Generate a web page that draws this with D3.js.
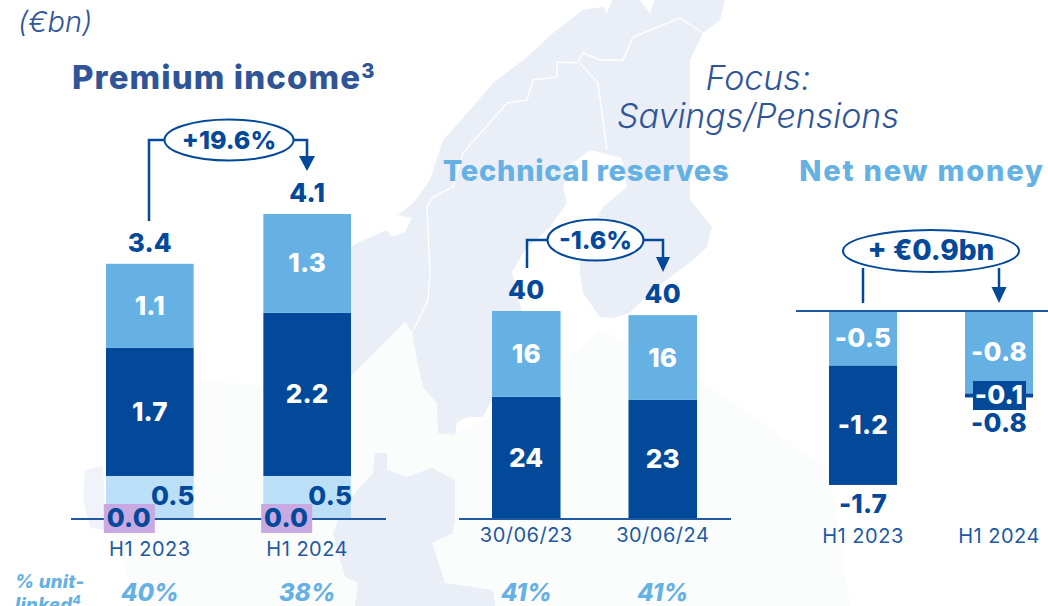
<!DOCTYPE html>
<html>
<head>
<meta charset="utf-8">
<script src="https://cdn.jsdelivr.net/npm/d3@7"></script>
<style>
  html, body { margin: 0; padding: 0; background: #fff; overflow: hidden; }
  text { font-family: Inter, "Open Sans", sans-serif; }
</style>
</head>
<body>
<svg id="chart" width="1048" height="606"></svg>
<script>
// values
const periods = ['H1 2023', 'H1 2024'];
const reserveDates = ['30/06/23', '30/06/24'];

const premiumTop = [1.11, 1.31];
const premiumMid = [1.70, 2.16];
const premiumLow = [0.55, 0.55];
const premiumOther = [0.02, 0.02];
const premiumTopLabels = ['1.1', '1.3'];
const premiumMidLabels = ['1.7', '2.2'];
const premiumLowLabels = ['0.5', '0.5'];
const premiumOtherLabels = ['0.0', '0.0'];
const premiumTotals = ['3.4', '4.1'];

const reservesTop = [16.5, 16.3];
const reservesLow = [23.5, 22.9];
const reservesTopLabels = ['16', '16'];
const reservesLowLabels = ['24', '23'];
const reservesTotals = ['40', '40'];

const moneyTop = [-0.55, -0.83];
const moneyLow = [-1.20, -0.04];
const moneyTopLabels = ['-0.5', '-0.8'];
const moneyLowLabels = ['-1.2', '-0.1'];
const moneyTotals = ['-1.7', '-0.8'];

const unitLinked = ['40%', '38%', '41%', '41%'];

// background map outlines, only decoration
const nordicLand = [[583,10],[603,7],[607,13],[612,0],[640,0],[650,13],[655,0],[725,0],[720,20],[703,33],[690,60],[690,143],[690,200],[712,227],[707,247],[693,260],[660,285],[629,313],[613,318],[600,317],[583,293],[580,273],[580,250],[603,207],[627,187],[622,158],[590,150],[570,165],[563,187],[567,203],[550,227],[525,250],[512,272],[522,312],[492,312],[492,400],[483,417],[468,417],[457,422],[455,435],[438,433],[437,403],[423,387],[417,360],[412,333],[405,322],[351,376],[340,380],[340,255],[357,243],[387,230],[392,237],[405,232],[412,218],[398,215],[413,203],[430,180],[443,140],[470,110],[493,83],[527,57],[553,33]];
const nordicBorders = [
  [[412,333],[428,300],[430,273],[427,207],[433,197],[453,187],[463,153],[507,103],[527,100],[533,80],[557,77],[557,62],[577,63],[583,53],[600,60],[623,60],[633,37],[680,18],[703,33]],
  [[580,63],[598,83],[607,150]]
];
const centralLand = [[362,485],[373,473],[375,453],[387,453],[387,470],[407,477],[432,468],[455,480],[455,520],[453,533],[432,543],[445,583],[493,590],[495,606],[355,606],[358,583],[345,577],[333,533],[342,510]];
const britainLand = [[85,470],[103,466],[106,530],[90,528],[83,500]];
const continentFade = [[200,380],[300,390],[351,376],[405,322],[455,435],[520,400],[600,330],[700,380],[830,470],[850,606],[140,606],[110,530]];

const colors = {
  dark: '#03499a', mid: '#65b1e3', pale: '#bbdff7', purple: '#c9a9e2',
  title: '#2f5597', axis: '#1d5aa3', map: '#e9eef7', fade: '#fbfcfc', britain: '#f0f3f9'
};

const svg = d3.select('#chart');
const mapLine = d3.line();

// map first, everything else sits on it
const bg = svg.append('g');
bg.append('path').attr('d', mapLine(continentFade) + 'Z').attr('fill', colors.fade);
bg.append('path').attr('d', mapLine(britainLand) + 'Z').attr('fill', colors.britain);
[nordicLand, centralLand].forEach(function(shape) {
  bg.append('path').attr('d', mapLine(shape) + 'Z').attr('fill', colors.map);
});
nordicBorders.forEach(function(b) {
  bg.append('path').attr('d', mapLine(b)).attr('fill', 'none').attr('stroke', '#fff').attr('stroke-width', 1.4);
});

function label(x, y, str, size, weight, fill, extra) {
  const t = svg.append('text').attr('x', x).attr('y', y)
    .attr('font-size', size).attr('font-weight', weight).attr('fill', fill)
    .attr('text-anchor', 'middle').text(str);
  if (extra) extra(t);
  return t;
}

function drawPanel(cfg) {
  const x = d3.scaleBand().domain(cfg.categories).range(cfg.xRange).paddingInner(cfg.padding);
  const y = d3.scaleLinear().domain(cfg.yDomain).range(cfg.yRange);
  const rows = cfg.categories.map(function(c, i) {
    const row = { category: c };
    cfg.series.forEach(function(s) { row[s.key] = s.values[i]; });
    return row;
  });
  const stacked = d3.stack()
    .keys(cfg.series.map(function(s) { return s.key; }))
    .offset(d3.stackOffsetDiverging)(rows);
  const g = svg.append('g');

  g.selectAll('g.layer').data(stacked).join('g')
    .attr('class', 'layer')
    .attr('fill', function(d, i) { return cfg.series[i].color; })
    .selectAll('rect').data(function(d) { return d; }).join('rect')
    .attr('x', function(d) { return x(d.data.category); })
    .attr('width', x.bandwidth())
    .attr('y', function(d) { return Math.min(y(d[0]), y(d[1])); })
    .attr('height', function(d) { return Math.abs(y(d[0]) - y(d[1])); });

  // axis carries the category names, baseline is its own line so it can overrun the bars
  const axis = g.append('g')
    .attr('transform', 'translate(0,' + cfg.labelAxisY + ')')
    .call(d3.axisBottom(x).tickSize(0).tickPadding(0));
  axis.select('.domain').remove();
  axis.selectAll('text')
    .attr('font-size', 20).attr('fill', colors.axis)
    .attr('font-family', 'Inter').attr('letter-spacing', 0.5);

  g.append('line')
    .attr('x1', cfg.baseline[0]).attr('x2', cfg.baseline[1])
    .attr('y1', y(0)).attr('y2', y(0))
    .attr('stroke', colors.axis).attr('stroke-width', 2);

  return { x: x, y: y, stacked: stacked };
}

function centre(panel, category) {
  return panel.x(category) + panel.x.bandwidth() / 2;
}

function valueText(x, y, str, fill) {
  return label(x, y, str, 26, 800, fill, function(t) { t.attr('letter-spacing', 0.2); });
}

function segmentLabels(panel, layerIndex, labels) {
  panel.stacked[layerIndex].forEach(function(d, i) {
    const cy = (panel.y(d[0]) + panel.y(d[1])) / 2;
    valueText(centre(panel, d.data.category), cy + 9, labels[i], '#fff');
  });
}

function bubble(cx, cy, rx, ry, str, size) {
  svg.append('ellipse').attr('cx', cx).attr('cy', cy).attr('rx', rx).attr('ry', ry)
    .attr('fill', '#fff').attr('stroke', colors.dark).attr('stroke-width', 2);
  label(cx, cy + 9, str, size, 800, colors.dark);
}

function connector(points) {
  svg.append('path').attr('d', mapLine(points)).attr('fill', 'none')
    .attr('stroke', colors.dark).attr('stroke-width', 2.5);
}

function arrowHead(x, tipY, halfWidth, height) {
  svg.append('path')
    .attr('d', mapLine([[x - halfWidth, tipY - height], [x + halfWidth, tipY - height], [x, tipY]]) + 'Z')
    .attr('fill', colors.dark);
}

// Premium income
const premium = drawPanel({
  categories: periods, xRange: [106, 351], padding: 0.443,
  yDomain: [0, 4.5], yRange: [519, 179.25],
  baseline: [71, 386], labelAxisY: 542,
  series: [
    { key: 'other', values: premiumOther, color: colors.purple },
    { key: 'low', values: premiumLow, color: colors.pale },
    { key: 'mid', values: premiumMid, color: colors.dark },
    { key: 'top', values: premiumTop, color: colors.mid }
  ]
});
segmentLabels(premium, 3, premiumTopLabels);
segmentLabels(premium, 2, premiumMidLabels);
periods.forEach(function(p, i) {
  const c = centre(premium, p);
  valueText(c + 23, 505, premiumLowLabels[i], colors.dark);
  svg.append('rect').attr('x', c - 46).attr('y', 504).attr('width', 51).attr('height', 29).attr('fill', colors.purple);
  valueText(c - 21, 527, premiumOtherLabels[i], colors.dark);
});
valueText(centre(premium, periods[0]), 252, premiumTotals[0], colors.dark);
valueText(centre(premium, periods[1]), 202, premiumTotals[1], colors.dark);
connector([[149, 221], [149, 140], [165, 140]]);
connector([[293, 140], [307, 140], [307, 158]]);
arrowHead(307, 171, 8, 15);
bubble(229, 140, 64.5, 20.5, '+19.6%', 25);

// Technical reserves
const reserves = drawPanel({
  categories: reserveDates, xRange: [492, 697], padding: 0.498,
  yDomain: [0, 45], yRange: [519, 285],
  baseline: [459, 731], labelAxisY: 528,
  series: [
    { key: 'low', values: reservesLow, color: colors.dark },
    { key: 'top', values: reservesTop, color: colors.mid }
  ]
});
segmentLabels(reserves, 1, reservesTopLabels);
segmentLabels(reserves, 0, reservesLowLabels);
valueText(centre(reserves, reserveDates[0]), 299, reservesTotals[0], colors.dark);
valueText(centre(reserves, reserveDates[1]), 303, reservesTotals[1], colors.dark);
connector([[527, 268], [527, 240], [550, 240]]);
connector([[642, 240], [663, 240], [663, 258]]);
arrowHead(663, 272, 7, 15);
bubble(595.5, 240, 48, 20.5, '-1.6%', 25);

// Net new money
const money = drawPanel({
  categories: periods, xRange: [829, 1033], padding: 0.5,
  yDomain: [0, -2], yRange: [311, 509.8],
  baseline: [796, 1048], labelAxisY: 529,
  series: [
    { key: 'top', values: moneyTop, color: colors.mid },
    { key: 'low', values: moneyLow, color: colors.dark }
  ]
});
segmentLabels(money, 0, moneyTopLabels);
valueText(centre(money, periods[0]), 434, moneyLowLabels[0], '#fff');
svg.append('rect').attr('x', 973).attr('y', 381).attr('width', 53).attr('height', 29).attr('fill', colors.dark);
valueText(centre(money, periods[1]), 404, moneyLowLabels[1], '#fff');
valueText(centre(money, periods[0]), 513, moneyTotals[0], colors.dark);
valueText(centre(money, periods[1]), 432, moneyTotals[1], colors.dark);
connector([[863, 268], [863, 303]]);
connector([[999, 268], [999, 290]]);
arrowHead(999, 303, 7.5, 16);
bubble(931, 251, 88, 21, '+ €0.9bn', 28);

// titles
label(18, 32, '(€bn)', 29, 300, colors.title, function(t) {
  t.attr('text-anchor', 'start').attr('font-style', 'italic');
});
const premiumTitle = label(72, 89, 'Premium income', 33, 800, colors.title, function(t) {
  t.attr('text-anchor', 'start').attr('letter-spacing', 1.1);
});
premiumTitle.append('tspan').attr('dy', -11).attr('font-size', 20).text('3');
label(758, 90, 'Focus:', 34, 300, colors.title, function(t) { t.attr('font-style', 'italic'); });
label(758, 128, 'Savings/Pensions', 34, 300, colors.title, function(t) { t.attr('font-style', 'italic'); });
label(586, 181, 'Technical reserves', 29, 800, colors.mid, function(t) { t.attr('letter-spacing', 0.75); });
label(922, 181, 'Net new money', 29, 800, colors.mid, function(t) { t.attr('letter-spacing', 1.8); });

// % unit-linked row
const linkedStyle = function(t) { t.attr('font-style', 'italic').attr('text-anchor', 'start').attr('letter-spacing', 0.3); };
label(15, 588, '% unit-', 18.5, 800, colors.mid, linkedStyle);
const linkedWord = label(15, 611, 'linked', 18.5, 800, colors.mid, linkedStyle);
linkedWord.append('tspan').attr('dy', -7).attr('font-size', 12).text('4');
const linkedCentres = [
  centre(premium, periods[0]), centre(premium, periods[1]),
  centre(reserves, reserveDates[0]), centre(reserves, reserveDates[1])
];
unitLinked.forEach(function(v, i) {
  label(linkedCentres[i], 601, v, 24, 800, colors.mid, function(t) { t.attr('font-style', 'italic'); });
});
</script>
</body>
</html>
